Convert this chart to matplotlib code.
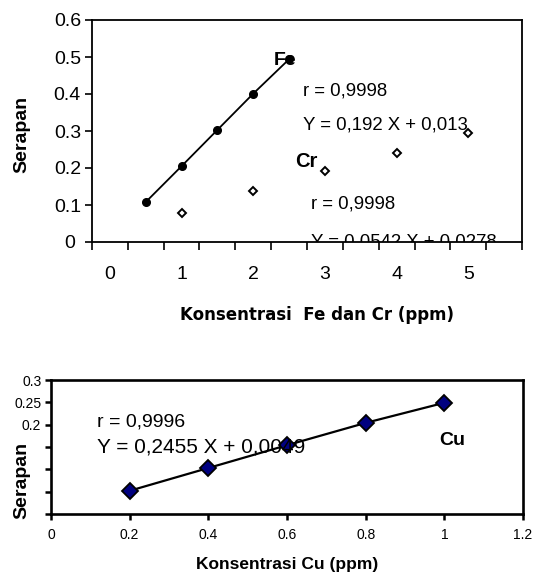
import numpy as np
import matplotlib
matplotlib.use("Agg")
import matplotlib.pyplot as plt

plt.rcParams['font.family'] = ['Liberation Sans', 'DejaVu Sans']

# ---- data ----
fe_x = [0.5, 1.0, 1.5, 2.0, 2.5]
fe_y = [0.108, 0.205, 0.303, 0.401, 0.494]
cr_x = [1, 2, 3, 4, 5]
cr_y = [0.079, 0.138, 0.192, 0.241, 0.295]
top_xticklabels = ['0', '1', '2', '3', '4', '5']
top_yticks = [0, 0.1, 0.2, 0.3, 0.4, 0.5, 0.6]
top_yticklabels = ['0 ', '0.1', '0.2', '0.3', '0.4', '0.5', '0.6']

cu_x = [0.2, 0.4, 0.6, 0.8, 1.0]
cu_y = [0.052, 0.103, 0.154, 0.204, 0.249]
bot_xticks = [0, 0.2, 0.4, 0.6, 0.8, 1.0, 1.2]
bot_xticklabels = ['0', '0.2', '0.4', '0.6', '0.8', '1', '1.2']
bot_yticks = [0, 0.05, 0.1, 0.15, 0.2, 0.25, 0.3]
bot_yticklabels = ['', '', '', '', '0.2', '0.25', '0.3']

W, H = 543, 575
fig = plt.figure(figsize=(W / 100, H / 100), dpi=100)


def rect(l, t, r, b):
    return [l / W, 1 - b / H, (r - l) / W, (b - t) / H]


def fpos(x, y):
    return x / W, 1 - y / H


NARROW = ['Liberation Sans Narrow', 'Liberation Sans', 'DejaVu Sans']
NS = 13.4

# ---- top chart ----
ax1 = fig.add_axes(rect(92, 20, 522, 242))
ax1.plot(fe_x, fe_y, '-', color='black', lw=1.3, marker='o', ms=5.5,
         mfc='black', mec='black', clip_on=False, zorder=3)
ax1.plot(cr_x, cr_y, ls='none', marker='D', ms=4.5, mfc='white',
         mec='black', mew=1.4, clip_on=False, zorder=3)
ax1.set_xlim(-0.25, 5.75)
ax1.set_ylim(0, 0.6)
ax1.set_xticks(np.arange(-0.25, 5.8, 0.5))
ax1.set_xticklabels([])
ax1.set_xticks(np.arange(0, 6), labels=top_xticklabels, minor=True)
ax1.tick_params(axis='x', which='major', direction='out', length=6, width=1.2)
ax1.tick_params(axis='x', which='minor', length=0, pad=17, labelsize=14)
ax1.set_yticks(top_yticks, labels=top_yticklabels)
ax1.tick_params(axis='y', direction='out', length=5, width=1.2, pad=3,
                labelsize=14)
for s in ax1.spines.values():
    s.set_linewidth(1.3)

ax1.text(2.28, 0.478, 'Fe', fontsize=14, fontweight='bold', va='baseline',
         ha='left')
ax1.text(2.69, 0.395, 'r = 0,9998', fontsize=NS, family=NARROW,
         va='baseline', ha='left')
ax1.text(2.69, 0.303, 'Y = 0,192 X + 0,013', fontsize=NS, family=NARROW,
         va='baseline', ha='left')
ax1.text(2.59, 0.2035, 'Cr', fontsize=14.5, fontweight='bold',
         va='baseline', ha='left')
ax1.text(2.80, 0.091, 'r = 0,9998', fontsize=NS, family=NARROW,
         va='baseline', ha='left')
ax1.text(2.80, -0.011, 'Y = 0,0542 X + 0,0278', fontsize=NS, family=NARROW,
         va='baseline', ha='left', clip_on=True)

fig.text(*fpos(21.5, 134), 'Serapan', rotation=90, fontsize=14,
         fontweight='bold', ha='center', va='center')
fig.text(*fpos(317, 315), 'Konsentrasi  Fe dan Cr (ppm)', fontsize=12,
         fontweight='bold', ha='center', va='center', family='DejaVu Sans')

# ---- bottom chart ----
ax2 = fig.add_axes(rect(51, 380, 523, 514))
ax2.plot(cu_x, cu_y, '-', color='black', lw=1.6, marker='D', ms=8.5,
         mfc='#000080', mec='black', mew=1.3, zorder=3, clip_on=False)
ax2.set_xlim(0, 1.2)
ax2.set_ylim(0, 0.3)
ax2.set_xticks(bot_xticks, labels=bot_xticklabels)
ax2.set_yticks(bot_yticks, labels=bot_yticklabels)
ax2.tick_params(axis='both', direction='out', length=4, width=1.8,
                labelsize=10)
ax2.tick_params(axis='x', pad=6)
ax2.tick_params(axis='y', pad=3)
for s in ax2.spines.values():
    s.set_linewidth(1.9)

ax2.text(0.116, 0.1955, 'r = 0,9996', fontsize=14, va='baseline', ha='left')
ax2.text(0.116, 0.137, 'Y = 0,2455 X + 0,0049', fontsize=15,
         va='baseline', ha='left', zorder=5)
ax2.text(0.987, 0.1545, 'Cu', fontsize=14, fontweight='bold',
         va='baseline', ha='left')

fig.text(*fpos(21.5, 480), 'Serapan', rotation=90, fontsize=14,
         fontweight='bold', ha='center', va='center')
fig.text(*fpos(287, 564), 'Konsentrasi Cu (ppm)', fontsize=12.5,
         fontweight='bold', ha='center', va='center')

fig.savefig('out.png', dpi=100, facecolor='white')
